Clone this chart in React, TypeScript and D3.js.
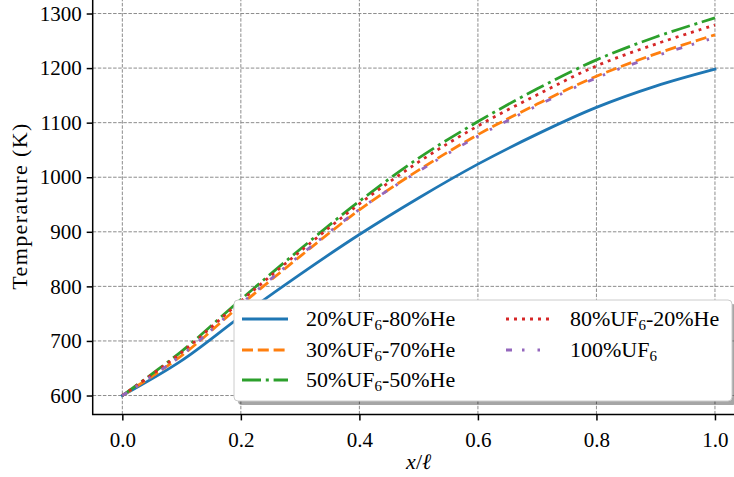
import React, { useRef, useEffect } from "react";
import * as d3 from "d3";

// axial position (x / l)
const xPositions = [0, 0.1, 0.2, 0.3, 0.4, 0.5, 0.6, 0.7, 0.8, 0.9, 1.0];

// temperature (K) for each gas mixture
const temp20 = [600, 664, 745, 822, 895, 962, 1024, 1079, 1128, 1167, 1198];
const temp30 = [600, 673, 766, 855, 940, 1013, 1078, 1134, 1185, 1226, 1261];
const temp50 = [600, 681, 776, 868, 956, 1035, 1102, 1162, 1215, 1257, 1292];
const temp80 = [600, 679, 773, 864, 951, 1028, 1094, 1151, 1204, 1244, 1279];
const temp100 = [600, 674, 768, 857, 941, 1011, 1075, 1131, 1182, 1222, 1256];

const seriesLabels = [
  "20%UF6-80%He",
  "30%UF6-70%He",
  "50%UF6-50%He",
  "80%UF6-20%He",
  "100%UF6",
];
const seriesColors = ["#1f77b4", "#ff7f0e", "#2ca02c", "#d62728", "#9467bd"];
const seriesDashes = ["none", "11,4.8", "19,4.8,3,4.8", "3,5", "6,10,2.5,13,2.5,13"];

const xTicks = [0, 0.2, 0.4, 0.6, 0.8, 1.0];
const yTicks = [600, 700, 800, 900, 1000, 1100, 1200, 1300];

const W = 734;
const H = 477;
const margin = { top: -1, right: -10.6, bottom: 62.6, left: 92.7 };
const FONT = "Liberation Serif, DejaVu Serif, serif";

export default function App() {
  const svgRef = useRef(null);

  useEffect(() => {
    const svg = d3.select(svgRef.current);
    svg.selectAll("*").remove();

    const allSeries = [temp20, temp30, temp50, temp80, temp100];
    const [tMin, tMax] = d3.extent(allSeries.flat());
    const padY = (tMax - tMin) * 0.05;

    const x = d3
      .scaleLinear()
      .domain([-0.05, 1.05])
      .range([margin.left, W - margin.right]);
    const y = d3
      .scaleLinear()
      .domain([tMin - padY, tMax + padY])
      .range([H - margin.bottom, margin.top]);

    const x0 = margin.left;
    const x1 = W - margin.right;
    const y0 = H - margin.bottom;
    const y1 = margin.top;

    svg.append("rect").attr("width", W).attr("height", H).attr("fill", "white");

    // grid
    const grid = svg.append("g");
    xTicks.forEach((t) => {
      grid
        .append("line")
        .attr("x1", x(t))
        .attr("x2", x(t))
        .attr("y1", y0)
        .attr("y2", y1)
        .attr("stroke", "#7f7f7f")
        .attr("stroke-width", 0.9)
        .attr("stroke-dasharray", "3.5,1.6");
    });
    yTicks.forEach((t) => {
      grid
        .append("line")
        .attr("x1", x0)
        .attr("x2", x1)
        .attr("y1", y(t))
        .attr("y2", y(t))
        .attr("stroke", "#7f7f7f")
        .attr("stroke-width", 0.9)
        .attr("stroke-dasharray", "3.5,1.6");
    });

    // curves
    const line = d3
      .line()
      .x((d) => x(d[0]))
      .y((d) => y(d[1]))
      .curve(d3.curveCatmullRom.alpha(0.5));

    allSeries.forEach((vals, i) => {
      svg
        .append("path")
        .datum(xPositions.map((p, j) => [p, vals[j]]))
        .attr("d", line)
        .attr("fill", "none")
        .attr("stroke", seriesColors[i])
        .attr("stroke-width", 2.8)
        .attr("stroke-dasharray", seriesDashes[i])
        .attr("stroke-linecap", i === 0 ? "square" : "butt");
    });

    // axes
    const xAxis = svg
      .append("g")
      .attr("transform", `translate(0,${y0})`)
      .call(
        d3
          .axisBottom(x)
          .tickValues(xTicks)
          .tickSize(6)
          .tickPadding(12)
          .tickFormat(d3.format(".1f"))
      );
    const yAxis = svg
      .append("g")
      .attr("transform", `translate(${x0},0)`)
      .call(
        d3
          .axisLeft(y)
          .tickValues(yTicks)
          .tickSize(6)
          .tickPadding(5)
          .tickFormat(d3.format("d"))
      );

    [xAxis, yAxis].forEach((g) => {
      g.attr("font-family", null).attr("font-size", null);
      g.select(".domain").remove();
      g.selectAll("line").attr("stroke", "black").attr("stroke-width", 1.5);
      g.selectAll("text")
        .style("font-family", FONT)
        .style("font-size", "21px")
        .attr("fill", "black");
    });

    // spines
    svg
      .append("path")
      .attr("d", `M${x1},${y0}H${x0}V${y1}H${x1}`)
      .attr("fill", "none")
      .attr("stroke", "black")
      .attr("stroke-width", 1.5);

    // axis labels
    svg
      .append("text")
      .attr("transform", `translate(27,${(y0 + y1) / 2}) rotate(-90)`)
      .attr("text-anchor", "middle")
      .style("font-family", FONT)
      .style("font-size", "22px")
      .attr("textLength", 166)
      .text("Temperature (K)");

    const xl = svg
      .append("text")
      .attr("x", (x0 + x1) / 2)
      .attr("y", 469)
      .attr("text-anchor", "middle")
      .style("font-family", FONT)
      .style("font-size", "22px");
    xl.append("tspan").attr("font-style", "italic").text("x");
    xl.append("tspan").text("/");
    xl.append("tspan").attr("font-style", "italic").text("\u2113");

    // legend
    const lx = 234;
    const ly = 300;
    const lw = 498;
    const lh = 101;
    const legend = svg.append("g");
    legend
      .append("rect")
      .attr("x", lx + 4)
      .attr("y", ly + 4)
      .attr("width", lw)
      .attr("height", lh)
      .attr("rx", 4)
      .attr("fill", "black")
      .attr("fill-opacity", 0.35);
    legend
      .append("rect")
      .attr("x", lx)
      .attr("y", ly)
      .attr("width", lw)
      .attr("height", lh)
      .attr("rx", 4)
      .attr("fill", "white")
      .attr("stroke", "#cccccc")
      .attr("stroke-width", 1);

    const colX = [lx + 8, lx + 272];
    const rowY = [ly + 19, ly + 50, ly + 80];
    seriesLabels.forEach((label, i) => {
      const col = i < 3 ? 0 : 1;
      const row = i < 3 ? i : i - 3;
      const hx = colX[col];
      const hy = rowY[row];
      legend
        .append("line")
        .attr("x1", hx)
        .attr("x2", hx + 46)
        .attr("y1", hy)
        .attr("y2", hy)
        .attr("stroke", seriesColors[i])
        .attr("stroke-width", 2.8)
        .attr("stroke-dasharray", seriesDashes[i]);
      const [pre, post] = label.split("UF6");
      const t = legend
        .append("text")
        .attr("x", hx + 64)
        .attr("y", hy + 7)
        .style("font-family", FONT)
        .style("font-size", "22px");
      t.append("tspan").text(pre + "UF");
      t.append("tspan").style("font-size", "15px").attr("dy", 4).text("6");
      t.append("tspan").attr("dy", -4).text(post);
    });
  }, []);

  return (
    <svg
      ref={svgRef}
      width={W}
      height={H}
      style={{ position: "absolute", left: 0, top: 0, display: "block" }}
    />
  );
}
